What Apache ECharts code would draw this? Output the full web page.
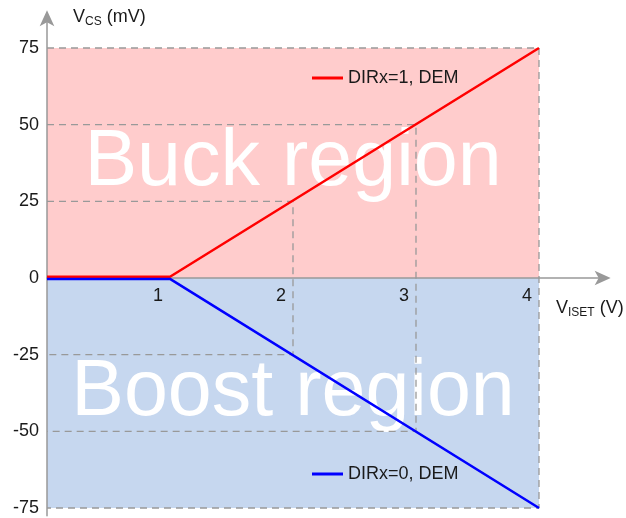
<!DOCTYPE html>
<html>
<head>
<meta charset="utf-8">
<script src="https://cdn.jsdelivr.net/npm/echarts@6/dist/echarts.min.js"></script>
<style>
html,body{margin:0;padding:0;background:#fff;}
#chart{width:626px;height:518px;}
</style>
</head>
<body>
<div id="chart"></div>
<script>
// ---- data ----
var xTicks = [1, 2, 3, 4];
var yTicks = [-75, -50, -25, 0, 25, 50, 75];
var buckSeries = [[0, 0.4], [1, 0.4], [4, 75]];      // DIRx=1, DEM
var boostSeries = [[0, -0.3], [1, -0.3], [4, -75]];  // DIRx=0, DEM
var guide75 = [[0, 75], [4, 75], [4, -75], [0, -75]];
var guide50 = [[0, 50], [3, 50], [3, -50], [0, -50]];
var guide25 = [[0, 25], [2, 25], [2, -25], [0, -25]];
var buckArea = [[0, 0], [4, 75]];
var boostArea = [[0, -75], [4, 0]];
var names = ['DIRx=1, DEM', 'DIRx=0, DEM'];
var regionNames = ['Buck region', 'Boost region'];

var FONT = '"Liberation Sans", Arial, sans-serif';
var chart = echarts.init(document.getElementById('chart'), null, {renderer: 'canvas'});

var Y_MIN = -77.5, Y_MAX = 86, GRID_TOP = 14.27, GRID_BOTTOM = 2.33;
var plotH = 518 - GRID_TOP - GRID_BOTTOM;
// shift the x axis (line + labels) up so it sits on y = 0
var xAxisOffset = -plotH * (0 - Y_MIN) / (Y_MAX - Y_MIN);

function guide(data) {
  return {
    type: 'line', data: data, symbol: 'none', silent: true, z: 1.2,
    lineStyle: {color: '#999', width: 1.3, type: [7, 5]}
  };
}

var option = {
  animation: false,
  textStyle: {fontFamily: FONT},
  title: [
    {
      text: 'V{s|CS} (mV)', left: 73, top: 6, padding: 0,
      textStyle: {
        fontFamily: FONT, fontSize: 18, fontWeight: 'normal', color: '#1a1a1a', lineHeight: 22,
        rich: {s: {fontFamily: FONT, fontSize: 12, color: '#1a1a1a', verticalAlign: 'bottom', lineHeight: 22}}
      }
    },
    {
      text: 'V{s|ISET} (V)', left: 556, top: 297, padding: 0,
      textStyle: {
        fontFamily: FONT, fontSize: 18, fontWeight: 'normal', color: '#1a1a1a', lineHeight: 22,
        rich: {s: {fontFamily: FONT, fontSize: 12, color: '#1a1a1a', verticalAlign: 'bottom', lineHeight: 22}}
      }
    }
  ],
  legend: [
    {
      data: [names[0]], left: 312, top: 69, padding: 0, selectedMode: false,
      icon: 'rect', itemWidth: 31, itemHeight: 3, itemGap: 5,
      textStyle: {fontFamily: FONT, fontSize: 18, color: '#1a1a1a'}
    },
    {
      data: [names[1]], left: 312, top: 465, padding: 0, selectedMode: false,
      icon: 'rect', itemWidth: 31, itemHeight: 3, itemGap: 5,
      textStyle: {fontFamily: FONT, fontSize: 18, color: '#1a1a1a'}
    }
  ],
  grid: {left: 47, right: 19.35, top: GRID_TOP, bottom: GRID_BOTTOM, containLabel: false, outerBoundsMode: 'none'},
  xAxis: {
    type: 'value', min: 0, max: 4.55, z: 1.5, position: 'bottom', offset: xAxisOffset,
    axisLine: {show: true, onZero: false, lineStyle: {color: '#999', width: 1.5},
      symbol: ['none', 'arrow'], symbolSize: [11, 16], symbolOffset: [0, 4]},
    axisTick: {show: false},
    splitLine: {show: false},
    axisLabel: {
      customValues: xTicks, color: '#1a1a1a', fontSize: 18, fontFamily: FONT,
      align: 'right', margin: 9, padding: [0, 7, 0, 0]
    }
  },
  yAxis: {
    type: 'value', min: Y_MIN, max: Y_MAX, z: 1.5,
    axisLine: {show: true, onZero: false, lineStyle: {color: '#999', width: 1.5},
      symbol: ['none', 'arrow'], symbolSize: [11, 16], symbolOffset: [0, 4]},
    axisTick: {show: false},
    splitLine: {show: false},
    axisLabel: {
      customValues: yTicks, color: '#1a1a1a', fontSize: 18, fontFamily: FONT, margin: 8
    }
  },
  series: [
    {
      type: 'line', data: [], silent: true, z: 1,
      markArea: {
        silent: true,
        data: [
          [{xAxis: buckArea[0][0], yAxis: buckArea[0][1], name: regionNames[0],
            itemStyle: {color: '#FFCCCC'}},
           {xAxis: buckArea[1][0], yAxis: buckArea[1][1]}],
          [{xAxis: boostArea[0][0], yAxis: boostArea[0][1], name: regionNames[1],
            itemStyle: {color: '#C6D7EF'}},
           {xAxis: boostArea[1][0], yAxis: boostArea[1][1]}]
        ],
        label: {show: true, position: 'inside', color: '#fff', fontSize: 79, fontFamily: FONT}
      }
    },
    guide(guide75), guide(guide50), guide(guide25),
    {
      name: names[0], type: 'line', data: buckSeries, symbol: 'none', z: 3,
      color: '#FF0000', lineStyle: {color: '#FF0000', width: 2.5}
    },
    {
      name: names[1], type: 'line', data: boostSeries, symbol: 'none', z: 3,
      color: '#0000FF', lineStyle: {color: '#0000FF', width: 2.5}
    }
  ]
};
chart.setOption(option);
</script>
</body>
</html>
